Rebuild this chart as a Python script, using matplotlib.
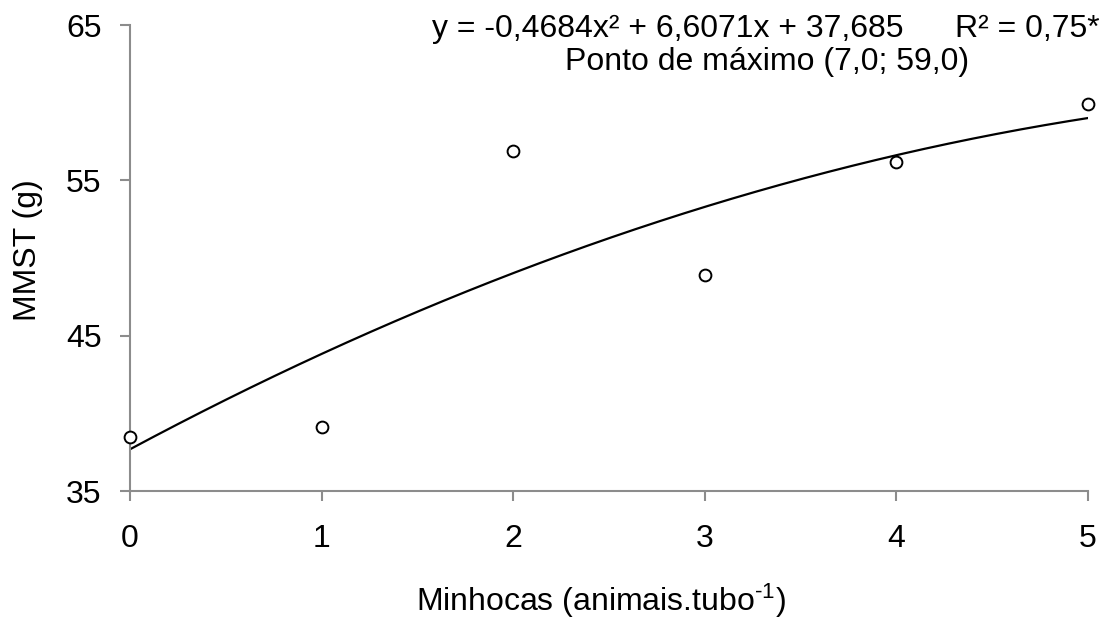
import numpy as np
import matplotlib
matplotlib.use('Agg')
import matplotlib.pyplot as plt

plt.rcParams['font.family'] = ['Liberation Sans', 'DejaVu Sans']
plt.rcParams['mathtext.fontset'] = 'custom'
plt.rcParams['mathtext.rm'] = 'Liberation Sans'
plt.rcParams['mathtext.it'] = 'Liberation Sans'

# observed data
minhocas = [0, 1, 2, 3, 4, 5]
mmst = [38.5, 39.1, 56.9, 48.9, 56.2, 59.9]

# fitted quadratic (coefficients from the equation shown)
coef = [-0.4684, 6.6071, 37.685]
eq_text = 'y = -0,4684x² + 6,6071x + 37,685'
r2_text = 'R² = 0,75*'
max_text = 'Ponto de máximo (7,0; 59,0)'

W, H = 1111, 621
fs = 23
fig = plt.figure(figsize=(W / 100, H / 100), dpi=100)
ax = fig.add_axes([130 / W, 1 - 491 / H, (1088 - 130) / W, (491 - 25) / H])

xs = np.linspace(0, 5, 200)
ax.plot(xs, np.polyval(coef, xs), color='black', linewidth=1.6, zorder=2)
ax.plot(minhocas, mmst, 'o', markersize=8.5, markerfacecolor='white',
        markeredgecolor='black', markeredgewidth=1.4, zorder=3, clip_on=False)

ax.set_xlim(0, 5)
ax.set_ylim(35, 65)
ax.set_xticks(range(0, 6))
ax.set_yticks([35, 45, 55, 65])

for side in ['top', 'right']:
    ax.spines[side].set_visible(False)
for side in ['left', 'bottom']:
    ax.spines[side].set_color('#8c8c8c')
    ax.spines[side].set_linewidth(1.5)

ax.tick_params(axis='both', colors='#8c8c8c', labelcolor='black',
               labelsize=fs, width=1.5, length=7.5)
ax.tick_params(axis='y', pad=13)
ax.tick_params(axis='x', pad=16)

# axis titles placed in figure pixels
fig.text(601 / W, 1 - 611 / H, r'Minhocas (animais.tubo$^{\text{-1}}$)',
         ha='center', va='baseline', fontsize=fs)
fig.text(28 / W, 1 - 250 / H, 'MMST (g)', rotation=90,
         ha='center', va='center', fontsize=fs)

fig.text(432 / W, 1 - 37 / H, eq_text, ha='left', va='baseline', fontsize=fs)
fig.text(1100 / W, 1 - 37 / H, r2_text, ha='right', va='baseline', fontsize=fs)
fig.text(767 / W, 1 - 70 / H, max_text, ha='center', va='baseline', fontsize=fs)

fig.savefig('out.png', dpi=100)
